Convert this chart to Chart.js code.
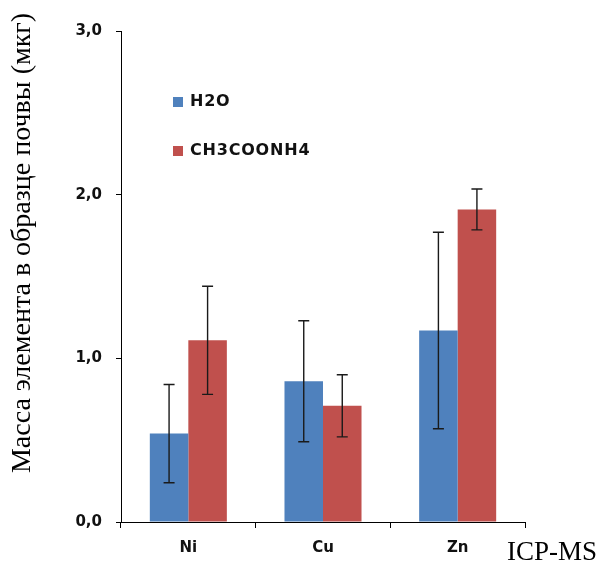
<!DOCTYPE html>
<html>
<head>
<meta charset="utf-8">
<script src="https://cdn.jsdelivr.net/npm/chart.js@4.4.1/dist/chart.umd.min.js"></script>
<style>
  html, body { margin: 0; padding: 0; background: #fff; }
  #wrap { width: 597px; height: 563px; }
</style>
</head>
<body>
<div id="wrap"><canvas id="c" width="597" height="563"></canvas></div>
<script>
// Elements and measured masses (µg) with standard deviations
const elements = ['Ni', 'Cu', 'Zn'];
const seriesNames = ['H2O', 'CH3COONH4'];
const massH2O = [0.54, 0.86, 1.17];
const massAcetate = [1.11, 0.71, 1.91];
const sdH2O = [0.30, 0.37, 0.60];
const sdAcetate = [0.33, 0.19, 0.125];
const yTicks = [0, 1, 2, 3];

const BLUE = '#4F81BD';
const RED = '#C0504D';

// Error bars: vertical whisker with caps, from the dataset's sd array
const errorBars = {
  id: 'errorBars',
  afterDatasetsDraw(chart) {
    const ctx = chart.ctx;
    const y = chart.scales.y;
    ctx.save();
    ctx.strokeStyle = '#1a1a1a';
    ctx.lineWidth = 1.4;
    chart.data.datasets.forEach((ds, i) => {
      const meta = chart.getDatasetMeta(i);
      meta.data.forEach((bar, j) => {
        const v = ds.data[j], e = ds.sd[j];
        const top = y.getPixelForValue(v + e);
        const bot = y.getPixelForValue(v - e);
        const x = bar.x, cap = 5.5;
        ctx.beginPath();
        ctx.moveTo(x, top); ctx.lineTo(x, bot);
        ctx.moveTo(x - cap, top); ctx.lineTo(x + cap, top);
        ctx.moveTo(x - cap, bot); ctx.lineTo(x + cap, bot);
        ctx.stroke();
      });
    });
    ctx.restore();
  }
};

// Legend inside the plot, axis title and method label
const annotations = {
  id: 'annotations',
  afterDraw(chart) {
    const ctx = chart.ctx;
    const area = chart.chartArea;
    ctx.save();
    // legend
    ctx.font = 'bold 16px "DejaVu Sans"';
    ctx.letterSpacing = '0.8px';
    ctx.textBaseline = 'middle';
    ctx.textAlign = 'left';
    chart.data.datasets.forEach((ds, i) => {
      const ly = 102 + i * 49;
      ctx.fillStyle = ds.backgroundColor;
      ctx.fillRect(area.left + 52, ly - 5, 10, 10);
      ctx.fillStyle = '#111';
      ctx.fillText(ds.label, area.left + 69, ly);
    });
    ctx.letterSpacing = '0px';
    // y axis title
    ctx.fillStyle = '#000';
    ctx.font = '28px "Liberation Serif"';
    ctx.translate(23, 243);
    ctx.rotate(-Math.PI / 2);
    ctx.textAlign = 'center';
    ctx.textBaseline = 'middle';
    ctx.fillText('Масса элемента в образце почвы (мкг)', 0, 0);
    ctx.restore();
    ctx.save();
    ctx.fillStyle = '#000';
    ctx.font = '27px "Liberation Serif"';
    ctx.textAlign = 'right';
    ctx.textBaseline = 'alphabetic';
    ctx.fillText('ICP-MS', 597, 560);
    ctx.restore();
  }
};

new Chart(document.getElementById('c'), {
  type: 'bar',
  data: {
    labels: elements,
    datasets: [
      { label: seriesNames[0], data: massH2O, sd: sdH2O, backgroundColor: BLUE },
      { label: seriesNames[1], data: massAcetate, sd: sdAcetate, backgroundColor: RED }
    ]
  },
  options: {
    responsive: false,
    animation: false,
    devicePixelRatio: 1,
    categoryPercentage: 0.572,
    barPercentage: 1.0,
    layout: { padding: { top: 31, right: 72, bottom: 0, left: 0 } },
    plugins: { legend: { display: false }, tooltip: { enabled: false } },
    scales: {
      x: {
        grid: { display: true, drawOnChartArea: false, offset: true, tickLength: 6, color: '#000' },
        border: { display: true, color: '#000', width: 1 },
        ticks: { color: '#111', font: { family: 'DejaVu Sans', size: 15, weight: 'bold' }, padding: 11 },
        afterFit(s) { s.height = 41; }
      },
      y: {
        min: 0, max: 3,
        afterBuildTicks(s) { s.ticks = yTicks.map(v => ({ value: v })); },
        grid: { display: true, drawOnChartArea: false, tickLength: 5, color: '#000' },
        border: { display: true, color: '#000', width: 1 },
        ticks: {
          color: '#111', font: { family: 'DejaVu Sans', size: 15, weight: 'bold' }, padding: 14,
          callback: v => v.toFixed(1).replace('.', ',')
        },
        afterFit(s) { s.width = 121; }
      }
    }
  },
  plugins: [errorBars, annotations]
});
</script>
</body>
</html>
